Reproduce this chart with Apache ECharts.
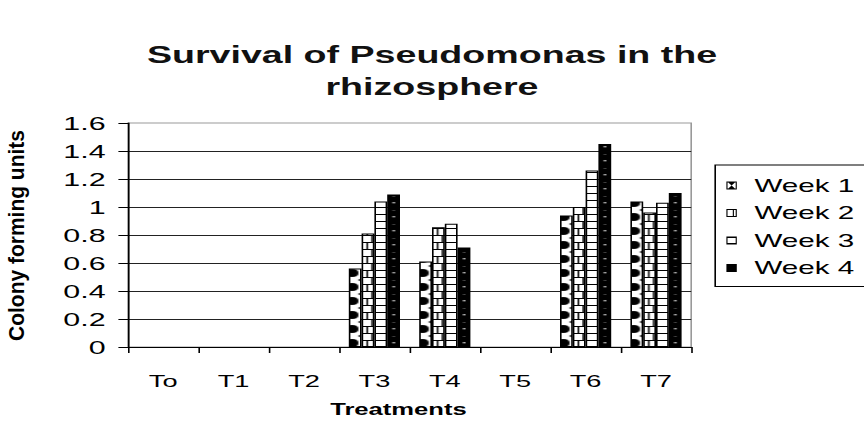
<!DOCTYPE html>
<html>
<head>
<meta charset="utf-8">
<script src="https://cdn.jsdelivr.net/npm/echarts@6/dist/echarts.min.js"></script>
<style>
html,body{margin:0;padding:0;background:#fff;overflow:hidden;}
#wrap{width:864px;height:424px;overflow:hidden;}
#chart{width:540px;height:424px;transform:scaleX(1.6);transform-origin:0 0;}
</style>
</head>
<body>
<div id="wrap"><div id="chart"></div></div>
<script>
const categories = ['To', 'T1', 'T2', 'T3', 'T4', 'T5', 'T6', 'T7'];
const seriesNames = ['Week 1', 'Week 2', 'Week 3', 'Week 4'];
const week1 = [0, 0, 0, 0.56, 0.61, 0, 0.94, 1.04];
const week2 = [0, 0, 0, 0.81, 0.855, 0, 1.00, 0.96];
const week3 = [0, 0, 0, 1.04, 0.88, 0, 1.26, 1.03];
const week4 = [0, 0, 0, 1.09, 0.71, 0, 1.45, 1.10];
const titleText = 'Survival of Pseudomonas in the\nrhizosphere';
const xName = 'Treatments';
const yName = 'Colony forming units';

const FONT = 'Liberation Sans, Arial, sans-serif';
const GL = 80, GT = 123, GW = 352, GH = 224;
const CAT = GW / categories.length;
const BW = 8, TILE_H = 14;
const YOFF = (GT + GH) % TILE_H;

function barOffset(k) {
  const start = GL + CAT / 2 - BW * 2 + BW * k;
  return ((start % CAT) + CAT) % CAT;
}
function tile(k, bg, drawFn) {
  const c = document.createElement('canvas');
  c.width = CAT; c.height = TILE_H;
  const ctx = c.getContext('2d');
  ctx.fillStyle = bg; ctx.fillRect(0, 0, CAT, TILE_H);
  const bx = barOffset(k);
  for (const dx of [-CAT, 0, CAT]) drawFn(ctx, bx + dx);
  return { image: c, repeat: 'repeat', imageWidth: CAT, imageHeight: TILE_H };
}
function hlines(ctx, bx) {
  ctx.fillStyle = '#000';
  ctx.fillRect(bx, YOFF, BW, 1);
  ctx.fillRect(bx, YOFF - 7, BW, 1);
}
const patterns = [
  tile(0, '#fff', (ctx, bx) => {
    ctx.fillStyle = '#000';
    ctx.beginPath(); ctx.arc(bx + 2, YOFF - 4, 4, 0, Math.PI * 2); ctx.fill();
    for (const yy of [YOFF - 11, YOFF + 3]) {
      ctx.beginPath(); ctx.moveTo(bx + 8, yy - 1.5); ctx.lineTo(bx + 5.5, yy); ctx.lineTo(bx + 8, yy + 1.5); ctx.closePath(); ctx.fill();
    }
  }),
  tile(1, '#fff', (ctx, bx) => {
    hlines(ctx, bx);
    ctx.fillRect(bx + 3, YOFF - 7, 1, 7);
    ctx.fillRect(bx + 6, YOFF, 1, 7);
    ctx.fillRect(bx + 6, YOFF - 14, 1, 7);
  }),
  tile(2, '#fff', (ctx, bx) => {
    hlines(ctx, bx);
  }),
  tile(3, '#000', (ctx, bx) => {
    ctx.fillStyle = '#fff';
    ctx.fillRect(bx + 3.5, YOFF - 5, 1.2, 1.4);
    ctx.fillRect(bx + 3.5, YOFF - 12, 1.2, 1.4);
  })
];
const icons = [
  'path://M0,0 H6.5 V8 H0 Z M0.7,1 V7 H5.8 V1 Z M1.2,1 L5.3,1 L3.25,4 Z M1.2,7 L3.25,4 L5.3,7 Z',
  'path://M0,0 H6.5 V8 H0 Z M0.7,1 V7 H5.8 V1 Z M4,1 H4.7 V7 H4 Z',
  'path://M0,0 H6.5 V8 H0 Z M0.7,1.6 V6.4 H5.8 V1.6 Z',
  'path://M0,0 H6.5 V8 H0 Z'
];
const values = [week1, week2, week3, week4];

const chart = echarts.init(document.getElementById('chart'), null, { renderer: 'svg' });
chart.setOption({
  animation: false,
  backgroundColor: '#fff',
  title: {
    text: titleText, left: 'center', top: 34,
    textStyle: { fontFamily: FONT, fontSize: 23.5, fontWeight: 'bold', color: '#111', lineHeight: 32 }
  },
  legend: {
    orient: 'vertical', left: 447, top: 165,
    padding: [11, 12, 9, 7],
    borderColor: '#000', borderWidth: 1,
    itemWidth: 6.5, itemHeight: 8, itemGap: 8.5,
    itemStyle: { color: '#000', borderWidth: 0 },
    textStyle: { fontFamily: FONT, fontSize: 18.5, color: '#000', padding: [0, 0, 0, 6] },
    data: seriesNames.map((n, i) => ({ name: n, icon: icons[i] }))
  },
  grid: { left: GL, top: GT, width: GW, height: GH, show: true, borderColor: '#999', borderWidth: 1, containLabel: false },
  xAxis: {
    type: 'category', data: categories,
    axisLine: { lineStyle: { color: '#000', width: 1 } },
    axisTick: { show: true, length: 6, lineStyle: { color: '#000' } },
    axisLabel: { fontFamily: FONT, fontSize: 17, color: '#000', margin: 26 },
    name: xName, nameLocation: 'middle', nameGap: 55,
    nameTextStyle: { fontFamily: FONT, fontSize: 16, fontWeight: 'bold', color: '#000', padding: [0, 14, 0, 0] }
  },
  yAxis: {
    type: 'value', min: 0, max: 1.6, interval: 0.2,
    axisLine: { show: true, lineStyle: { color: '#000', width: 1 } },
    axisTick: { show: true, length: 6, lineStyle: { color: '#000' } },
    axisLabel: { fontFamily: FONT, fontSize: 19, color: '#000', margin: 14 },
    splitLine: { show: true, showMaxLine: false, lineStyle: { color: '#222', width: 1 } }
  },
  graphic: [{
    type: 'text', x: 10, y: 235.5, rotation: Math.PI / 2, scaleY: 0.66,
    style: { text: yName, font: 'bold 21px ' + FONT, fill: '#000', align: 'center', verticalAlign: 'middle' }
  }],
  series: seriesNames.map((n, i) => ({
    name: n, type: 'bar', barWidth: BW, barGap: '0%',
    data: values[i].map(v => v === 0 ? { value: v, itemStyle: { borderWidth: 0 } } : v),
    itemStyle: { color: patterns[i], borderColor: '#000', borderWidth: 1 }
  }))
});
</script>
</body>
</html>
